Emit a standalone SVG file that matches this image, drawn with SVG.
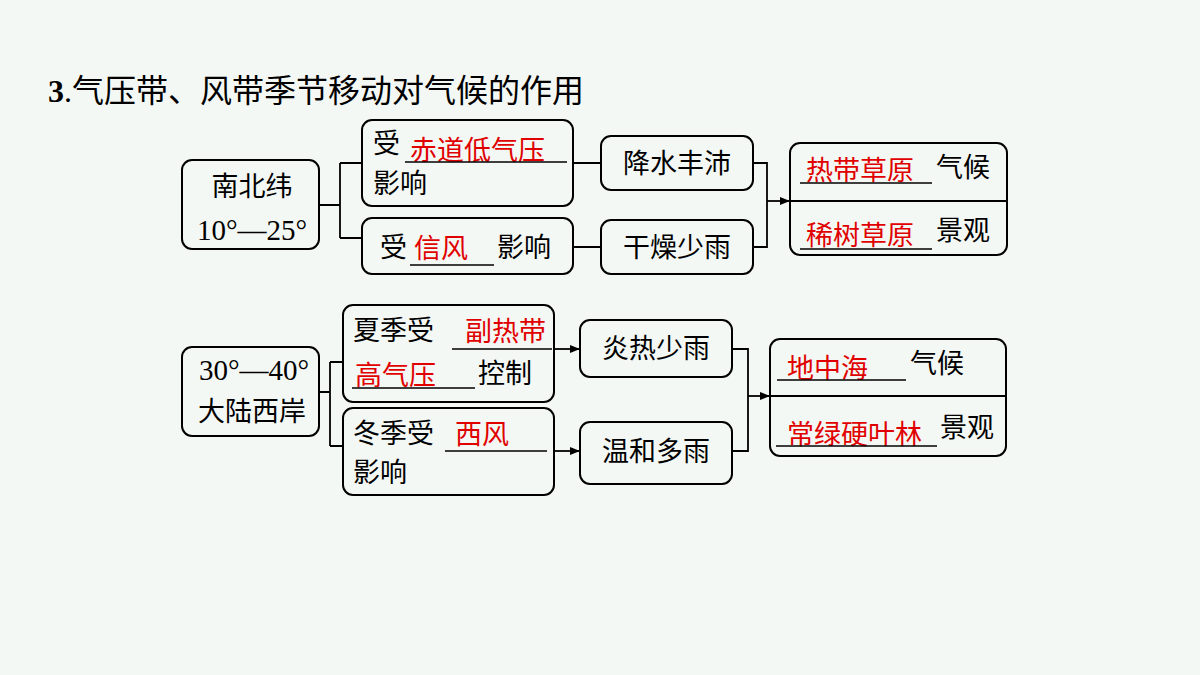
<svg xmlns="http://www.w3.org/2000/svg" width="1200" height="675" viewBox="0 0 1200 675">
<defs>
<style>
.b{fill:none;stroke:#000;stroke-width:2}
.l{fill:none;stroke:#000;stroke-width:1.8}
.u{stroke:#000;stroke-width:1.5}
text{font-family:"Liberation Serif","Noto Sans CJK SC",serif;font-size:27px;fill:#000}
.r{fill:#e00000}
.m{text-anchor:middle}
.n{font-size:29px}
</style>
<marker id="a" viewBox="0 0 10 10" refX="10" refY="5" markerWidth="10" markerHeight="10" markerUnits="userSpaceOnUse" orient="auto"><path d="M0,1L10,5L0,9z" fill="#000"/></marker>
</defs>
<rect width="1200" height="675" fill="#f4f8f4"/>
<text x="48" y="102" style="font-size:32px"><tspan font-weight="bold">3</tspan>.气压带、风带季节移动对气候的作用</text>
<g id="connectors">
<path class="l" d="M319,205H340M340,163V238M340,163H362M340,238H362"/>
<path class="l" d="M573,163H601M573,247H601"/>
<path class="l" d="M753,163H767V247H753"/>
<path class="l" d="M767,201H790" marker-end="url(#a)"/>
<path class="l" d="M319,392H330M330,362V446M330,362H343M330,446H343"/>
<path class="l" d="M554,349H580" marker-end="url(#a)"/>
<path class="l" d="M554,451H580" marker-end="url(#a)"/>
<path class="l" d="M732,349H748V451H732"/>
<path class="l" d="M748,396H770" marker-end="url(#a)"/>
</g>
<g id="n1"><rect class="b" x="182" y="160" width="137" height="89" rx="10"/><text class="m" x="252" y="196">南北纬</text><text class="m n" x="252" y="240">10°—25°</text></g>
<g id="n2"><rect class="b" x="362" y="120" width="211" height="86" rx="10"/><text x="373" y="153">受</text><text class="r" x="410" y="160">赤道低气压</text><line class="u" x1="405" y1="162" x2="567" y2="162"/><text x="373" y="193">影响</text></g>
<g id="n3"><rect class="b" x="362" y="218" width="211" height="56" rx="10"/><text x="380" y="257">受</text><text class="r" x="414" y="258">信风</text><line class="u" x1="410" y1="265" x2="494" y2="265"/><text x="497" y="257">影响</text></g>
<g id="n4"><rect class="b" x="601" y="136" width="152" height="54" rx="10"/><text class="m" x="677" y="173">降水丰沛</text></g>
<g id="n5"><rect class="b" x="601" y="220" width="152" height="54" rx="10"/><text class="m" x="677" y="257">干燥少雨</text></g>
<g id="n6"><rect class="b" x="790" y="143" width="217" height="112" rx="10"/><line class="l" x1="790" y1="201" x2="1007" y2="201"/><text class="r" x="806" y="180">热带草原</text><line class="u" x1="800" y1="183" x2="932" y2="183"/><text x="936" y="177">气候</text><text class="r" x="806" y="245">稀树草原</text><line class="u" x1="800" y1="249" x2="932" y2="249"/><text x="936" y="240">景观</text></g>
<g id="n7"><rect class="b" x="182" y="347" width="137" height="89" rx="10"/><text class="m n" x="254" y="380">30°—40°</text><text class="m" x="252" y="421">大陆西岸</text></g>
<g id="n8"><rect class="b" x="343" y="305" width="211" height="97" rx="10"/><text x="353" y="340">夏季受</text><text class="r" x="465" y="341">副热带</text><line class="u" x1="452" y1="349" x2="552" y2="349"/><text class="r" x="355" y="385">高气压</text><line class="u" x1="352" y1="388" x2="475" y2="388"/><text x="478" y="383">控制</text></g>
<g id="n9"><rect class="b" x="343" y="408" width="211" height="87" rx="10"/><text x="353" y="443">冬季受</text><text class="r" x="455" y="444">西风</text><line class="u" x1="445" y1="451" x2="547" y2="451"/><text x="353" y="482">影响</text></g>
<g id="n10"><rect class="b" x="580" y="320" width="152" height="57" rx="10"/><text class="m" x="656" y="358">炎热少雨</text></g>
<g id="n11"><rect class="b" x="580" y="422" width="152" height="62" rx="10"/><text class="m" x="656" y="461">温和多雨</text></g>
<g id="n12"><rect class="b" x="770" y="339" width="236" height="117" rx="10"/><line class="l" x1="770" y1="396" x2="1006" y2="396"/><text class="r" x="787" y="378">地中海</text><line class="u" x1="777" y1="380" x2="906" y2="380"/><text x="910" y="373">气候</text><text class="r" x="787" y="444">常绿硬叶林</text><line class="u" x1="776" y1="446" x2="937" y2="446"/><text x="940" y="437">景观</text></g>
</svg>
